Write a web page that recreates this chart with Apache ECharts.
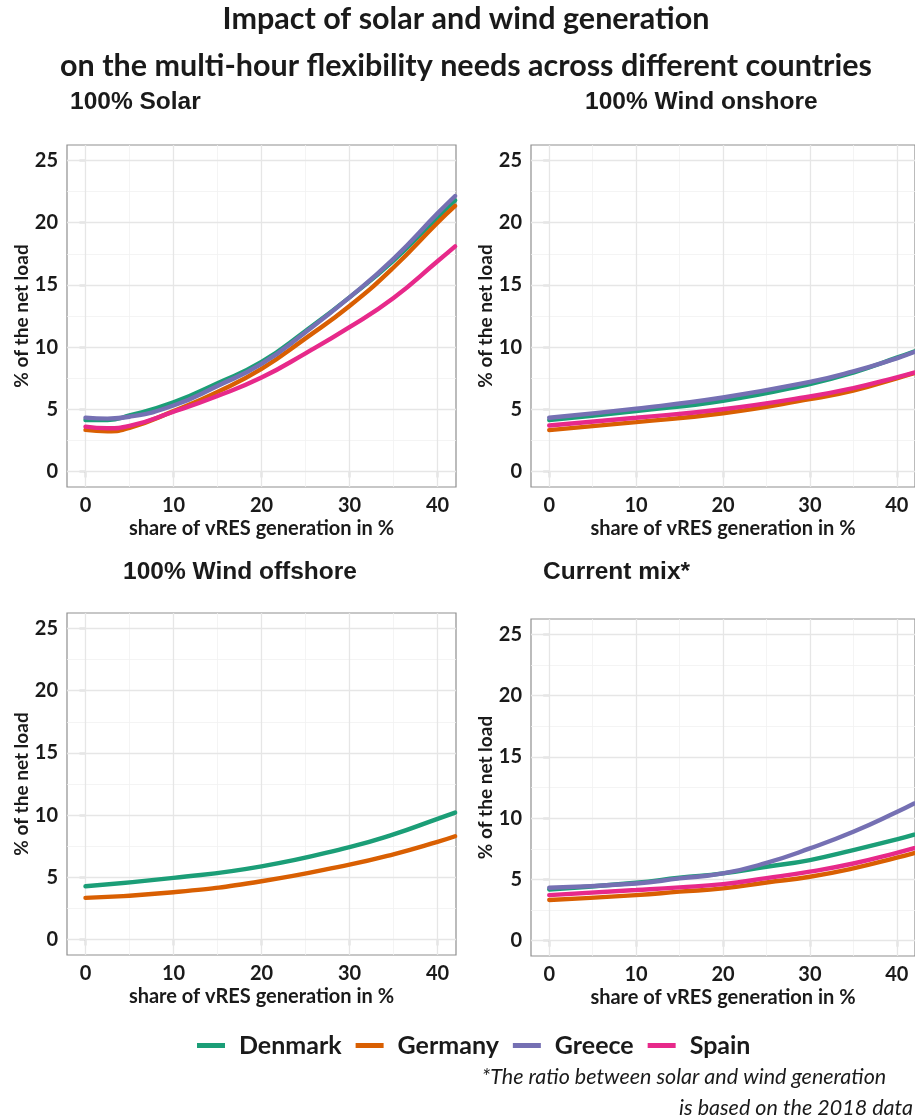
<!DOCTYPE html>
<html>
<head>
<meta charset="utf-8">
<script src="https://cdn.jsdelivr.net/npm/echarts@6/dist/echarts.min.js"></script>
<style>
  html, body { margin: 0; padding: 0; background: #ffffff; }
  #chart { width: 915px; height: 1118px; }
</style>
</head>
<body>
<div id="chart"></div>
<script>
// Countries and their line colours
const countries = ['Denmark', 'Germany', 'Greece', 'Spain'];
const countryColors = ['#1B9E77', '#D95F02', '#7570B3', '#E7298A'];

// Axis ticks
const xTicks = [0, 10, 20, 30, 40];
const xMinorTicks = [5, 15, 25, 35];
const yTicks = [0, 5, 10, 15, 20, 25];
const yMinorTicks = [2.5, 7.5, 12.5, 17.5, 22.5];

// 100% Solar
const shareSolar = [0, 2.5, 5, 10, 15, 20, 25, 30, 35, 40, 42];
const solarDenmark = [4.14, 4.14, 4.5, 5.55, 7.1, 8.8, 11.3, 14.0, 16.95, 20.45, 21.8];
const solarGermany = [3.34, 3.23, 3.5, 4.85, 6.4, 8.25, 10.7, 13.3, 16.4, 20.0, 21.35];
const solarGreece  = [4.33, 4.25, 4.4, 5.3, 6.88, 8.65, 11.2, 14.0, 17.1, 20.75, 22.15];
const solarSpain   = [3.6, 3.47, 3.66, 4.8, 6.07, 7.55, 9.5, 11.6, 13.95, 16.9, 18.1];

// 100% Wind onshore
const shareOnshore = [0, 10, 20, 30, 35, 40, 42];
const onshoreDenmark = [4.13, 4.86, 5.68, 7.03, 7.95, 9.15, 9.65];
const onshoreGermany = [3.32, 3.97, 4.68, 5.81, 6.5, 7.49, 7.9];
const onshoreGreece  = [4.32, 5.05, 5.95, 7.2, 8.05, 9.1, 9.6];
const onshoreSpain   = [3.7, 4.32, 5.0, 6.03, 6.7, 7.57, 7.95];

// 100% Wind offshore
const shareOffshore = [0, 10, 20, 30, 35, 40, 42];
const offshoreDenmark = [4.28, 4.95, 5.88, 7.43, 8.45, 9.7, 10.2];
const offshoreGermany = [3.34, 3.8, 4.68, 6.02, 6.85, 7.85, 8.3];

// Current mix
const shareMix = [0, 10, 15, 20, 25, 30, 35, 40, 42];
const mixDenmark = [4.18, 4.73, 5.14, 5.49, 6.03, 6.58, 7.39, 8.26, 8.65];
const mixGermany = [3.32, 3.72, 4.0, 4.27, 4.75, 5.22, 5.9, 6.77, 7.15];
const mixGreece  = [4.32, 4.67, 5.08, 5.49, 6.35, 7.53, 8.89, 10.5, 11.2];
const mixSpain   = [3.72, 4.13, 4.35, 4.62, 5.1, 5.63, 6.3, 7.17, 7.55];

const panels = [
  { title: '100% Solar', share: shareSolar,
    values: [solarDenmark, solarGermany, solarGreece, solarSpain] },
  { title: '100% Wind onshore', share: shareOnshore,
    values: [onshoreDenmark, onshoreGermany, onshoreGreece, onshoreSpain] },
  { title: '100% Wind offshore', share: shareOffshore,
    values: [offshoreDenmark, offshoreGermany, null, null] },
  { title: 'Current mix*', share: shareMix,
    values: [mixDenmark, mixGermany, mixGreece, mixSpain] }
];

const labelFont = 'Lato, "Open Sans", sans-serif';
const headFont = '"Liberation Sans", Arial, sans-serif';
const ink = '#1a1a1a';

const gridBoxes = [
  { left: 67,  top: 145, width: 389, height: 342 },
  { left: 531, top: 145, width: 389, height: 342 },
  { left: 67,  top: 613, width: 389, height: 342 },
  { left: 531, top: 619, width: 389, height: 337 }
];

const grids = [], xAxes = [], yAxes = [], series = [];

gridBoxes.forEach(function (b, i) {
  grids.push(Object.assign({
    show: true, backgroundColor: '#ffffff', borderColor: '#8f8f8f', borderWidth: 1.2
  }, b));

  xAxes.push({
    gridIndex: i, type: 'value', min: -2.1, max: 42.1,
    axisLine: { show: false },
    axisTick: { show: true, length: 6, customValues: xTicks, lineStyle: { color: '#333', width: 1.2 } },
    axisLabel: { customValues: xTicks, margin: 9, fontSize: 20, fontWeight: 'bold', color: ink, fontFamily: labelFont },
    splitLine: { show: false },
    name: 'share of vRES generation in %', nameLocation: 'middle', nameGap: 32,
    nameTextStyle: { fontSize: 20, fontWeight: 'bold', color: ink, fontFamily: labelFont }
  });

  yAxes.push({
    gridIndex: i, type: 'value', min: -1.25, max: 26.25,
    axisLine: { show: false },
    axisTick: { show: true, length: 6, customValues: yTicks, lineStyle: { color: '#333', width: 1.2 } },
    axisLabel: { customValues: yTicks, margin: 9, fontSize: 20, fontWeight: 'bold', color: ink, fontFamily: labelFont },
    splitLine: { show: false },
    name: '% of the net load', nameLocation: 'middle', nameGap: 36, nameRotate: 90,
    nameTextStyle: { fontSize: 19, fontWeight: 'bold', color: ink, fontFamily: labelFont }
  });

  // panel gridlines, major and minor
  const minorStyle = { color: '#f1f1f1', width: 0.8, type: 'solid' };
  const majorStyle = { color: '#e6e6e6', width: 1.3, type: 'solid' };
  const lines = [];
  xMinorTicks.forEach(v => lines.push({ xAxis: v, lineStyle: minorStyle }));
  yMinorTicks.forEach(v => lines.push({ yAxis: v, lineStyle: minorStyle }));
  xTicks.forEach(v => lines.push({ xAxis: v, lineStyle: majorStyle }));
  yTicks.forEach(v => lines.push({ yAxis: v, lineStyle: majorStyle }));
  series.push({
    type: 'line', xAxisIndex: i, yAxisIndex: i, data: [], silent: true, z: 1,
    markLine: { silent: true, symbol: 'none', z: 1, label: { show: false },
      animation: false, data: lines }
  });

  const p = panels[i];
  countries.forEach(function (name, k) {
    const vals = p.values[k];
    if (!vals) return;
    series.push({
      name: name, type: 'line', xAxisIndex: i, yAxisIndex: i, z: 3 + k,
      data: p.share.map((x, j) => [x, vals[j]]),
      smooth: 0.5, showSymbol: false, clip: true,
      lineStyle: { color: countryColors[k], width: 4.4, cap: 'round' },
      itemStyle: { color: countryColors[k] }
    });
  });
});

const texts = [
  { text: 'Impact of solar and wind generation', x: 466, y: 19, size: 30.5, font: labelFont, weight: 'bold', align: 'center' },
  { text: 'on the multi-hour flexibility needs across different countries', x: 466, y: 66, size: 30.5, font: labelFont, weight: 'bold', align: 'center' },
  { text: panels[0].title, x: 70, y: 102, size: 24.5, font: headFont, weight: 'bold', align: 'left' },
  { text: panels[1].title, x: 585, y: 102, size: 24.5, font: headFont, weight: 'bold', align: 'left' },
  { text: panels[2].title, x: 123, y: 572, size: 24.5, font: headFont, weight: 'bold', align: 'left' },
  { text: panels[3].title, x: 543, y: 572, size: 24.5, font: headFont, weight: 'bold', align: 'left' },
  { text: '*The ratio between solar and wind generation', x: 684, y: 1077, size: 21.5, font: labelFont, weight: 'normal', style: 'italic', align: 'center' },
  { text: 'is based on the 2018 data', x: 796, y: 1108, size: 21.5, font: labelFont, weight: 'normal', style: 'italic', align: 'center' }
];

const chart = echarts.init(document.getElementById('chart'), null, { renderer: 'canvas' });
chart.setOption({
  animation: false,
  backgroundColor: '#ffffff',
  grid: grids,
  xAxis: xAxes,
  yAxis: yAxes,
  series: series,
  legend: {
    data: countries, left: 192, top: 1028, icon: 'rect',
    itemWidth: 28, itemHeight: 5, itemGap: 14,
    textStyle: { fontSize: 25, fontWeight: 'bold', color: ink, fontFamily: labelFont, padding: [0, 0, 0, 9] }
  },
  graphic: texts.map(t => ({
    type: 'text', x: t.x, y: t.y, silent: true,
    style: {
      text: t.text, fill: ink, align: t.align, verticalAlign: 'middle',
      font: (t.style || 'normal') + ' ' + t.weight + ' ' + t.size + 'px ' + t.font
    }
  }))
});
</script>
</body>
</html>
